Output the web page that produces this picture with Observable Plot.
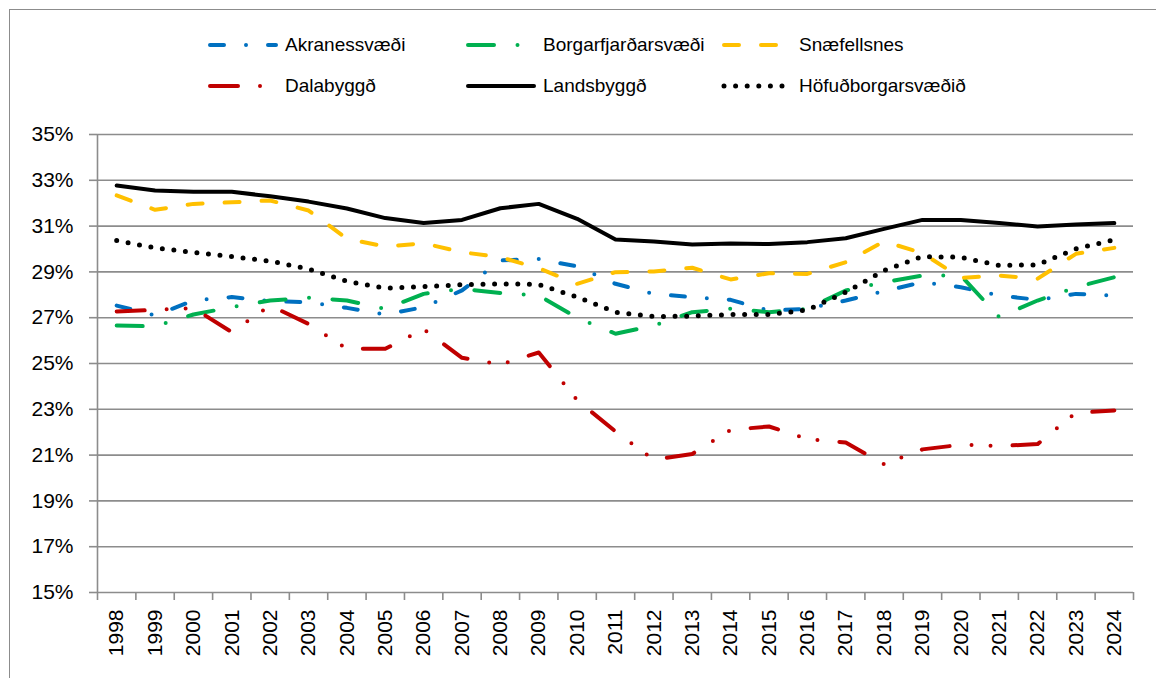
<!DOCTYPE html>
<html>
<head>
<meta charset="utf-8">
<script src="https://cdn.jsdelivr.net/npm/d3@7"></script>
<script src="https://cdn.jsdelivr.net/npm/@observablehq/plot@0.6"></script>
<style>
  html, body { margin: 0; padding: 0; background: #fff; width: 1156px; height: 678px; overflow: hidden; }
  #frame { position: absolute; left: 9px; top: 9px; width: 1200px; height: 720px; border: 1.5px solid #8c8c8c; box-sizing: border-box; }
  #legend { position: absolute; left: 0; top: 0; width: 1156px; height: 110px; font-family: "Liberation Sans", Arial, sans-serif; font-size: 19px; color: #000; }
  .item { position: absolute; display: flex; align-items: center; height: 30px; }
  .item svg { margin-right: 6px; }
  #chart { position: absolute; left: 0; top: 110px; }
</style>
</head>
<body>
<div id="frame"></div>
<div id="legend"></div>
<div id="chart"></div>
<script>
const years = [1998,1999,2000,2001,2002,2003,2004,2005,2006,2007,2008,2009,2010,2011,2012,2013,2014,2015,2016,2017,2018,2019,2020,2021,2022,2023,2024];
const yTicks = [15,17,19,21,23,25,27,29,31,33,35];

const akranes   = [27.53,27.10,27.75,27.90,27.72,27.68,27.43,27.14,27.46,28.19,29.50,29.56,29.24,28.48,28.04,27.90,27.78,27.31,27.39,27.75,28.16,28.55,28.33,27.97,27.78,28.04,27.97];
const borgarfj  = [26.66,26.62,27.14,27.46,27.75,27.87,27.75,27.39,28.04,28.26,28.08,27.97,27.00,26.30,26.66,27.24,27.39,27.24,27.39,28.19,28.55,28.84,28.84,27.03,27.75,28.33,28.77];
const snaef     = [32.34,31.71,31.97,32.04,32.12,31.68,30.45,30.11,30.25,29.86,29.64,29.16,28.48,28.99,29.02,29.18,28.67,28.94,28.91,29.42,30.33,29.82,28.74,28.84,28.70,29.79,30.05];
const dala      = [27.27,27.34,27.42,26.37,27.53,26.73,25.64,25.64,26.50,25.25,24.96,25.48,23.40,22.03,20.80,21.05,22.10,22.25,21.70,21.55,20.60,21.25,21.45,21.40,21.48,22.85,22.95];
const lands     = [32.77,32.55,32.50,32.50,32.30,32.07,31.77,31.35,31.14,31.27,31.78,31.97,31.32,30.41,30.33,30.20,30.24,30.22,30.30,30.47,30.88,31.27,31.27,31.14,30.98,31.07,31.13];
const hofud     = [30.37,30.05,29.85,29.67,29.47,29.13,28.59,28.29,28.36,28.44,28.48,28.45,27.90,27.24,27.05,27.07,27.14,27.14,27.34,28.11,29.06,29.67,29.64,29.28,29.31,30.01,30.40];

const seriesNames = ["Akranessvæði","Borgarfjarðarsvæði","Snæfellsnes","Dalabyggð","Landsbyggð","Höfuðborgarsvæðið"];
const seriesValues = [akranes, borgarfj, snaef, dala, lands, hofud];

// styles (kept separate from data)
const styles = {
  "Akranessvæði":       {stroke: "#0070C0", width: 4, dash: "14,22,0,22"},
  "Borgarfjarðarsvæði": {stroke: "#00B050", width: 4, dash: "26,23.5,0,23.5"},
  "Snæfellsnes":        {stroke: "#FFC000", width: 4, dash: "15,22"},
  "Dalabyggð":          {stroke: "#C00000", width: 4, dash: "28,22,0,19,0,22"},
  "Landsbyggð":         {stroke: "#000000", width: 4, dash: null},
  "Höfuðborgarsvæðið":  {stroke: "#000000", width: 5, dash: "0,11.6"}
};

const data = seriesNames.flatMap((name, i) => years.map((year, j) => ({name, year, value: seriesValues[i][j]})));
const boundaries = [years[0] - 0.5, ...years.map(y => y + 0.5)];

const lineMarks = seriesNames.map(name => {
  const s = styles[name];
  return Plot.line(data.filter(d => d.name === name), {
    x: "year", y: "value",
    stroke: s.stroke, strokeWidth: s.width,
    strokeDasharray: s.dash || undefined,
    strokeLinecap: "round", strokeLinejoin: "round"
  });
});

const gridColor = "#8c8c8c";
const chart = Plot.plot({
  width: 1156,
  height: 568,
  marginTop: 24,
  marginLeft: 97,
  marginRight: 23,
  marginBottom: 86,
  style: {fontFamily: "Liberation Sans, Arial, sans-serif", fontSize: "21px", color: "#000", background: "transparent", overflow: "visible"},
  x: {type: "linear", domain: [boundaries[0], boundaries[boundaries.length - 1]]},
  y: {domain: [15, 35]},
  marks: [
    Plot.gridY(yTicks, {stroke: gridColor, strokeOpacity: 1, strokeWidth: 1.6}),
    Plot.ruleX([boundaries[0]], {stroke: gridColor, strokeWidth: 1.6}),
    Plot.axisY({ticks: yTicks, tickFormat: d => d + "%", tickSize: 8, tickPadding: 16, stroke: gridColor, strokeOpacity: 1, strokeWidth: 1.6, label: null, fontSize: 21}),
    Plot.axisX({ticks: boundaries, tickSize: 8, tickFormat: () => "", stroke: gridColor, strokeOpacity: 1, strokeWidth: 1.6, label: null}),
    Plot.axisX({ticks: years, tickSize: 0, tickPadding: 17, tickRotate: -90, tickFormat: d => String(d), label: null, fontSize: 21}),
    ...lineMarks
  ]
});
document.getElementById("chart").appendChild(chart);

// legend
const legendLayout = [
  {name: "Akranessvæði", left: 207, top: 30},
  {name: "Borgarfjarðarsvæði", left: 465, top: 30},
  {name: "Snæfellsnes", left: 721, top: 30},
  {name: "Dalabyggð", left: 207, top: 71},
  {name: "Landsbyggð", left: 465, top: 71},
  {name: "Höfuðborgarsvæðið", left: 721, top: 71}
];
const legend = document.getElementById("legend");
legendLayout.forEach(l => {
  const s = styles[l.name];
  const div = document.createElement("div");
  div.className = "item";
  div.style.left = l.left + "px";
  div.style.top = l.top + "px";
  const w = 72;
  const dashAttr = s.dash ? `stroke-dasharray="${s.dash}"` : "";
  div.innerHTML = `<svg width="${w}" height="12"><line x1="3" y1="6" x2="${w - 3}" y2="6" stroke="${s.stroke}" stroke-width="${s.width}" stroke-linecap="round" ${dashAttr}/></svg><span>${l.name}</span>`;
  legend.appendChild(div);
});
</script>
</body>
</html>
